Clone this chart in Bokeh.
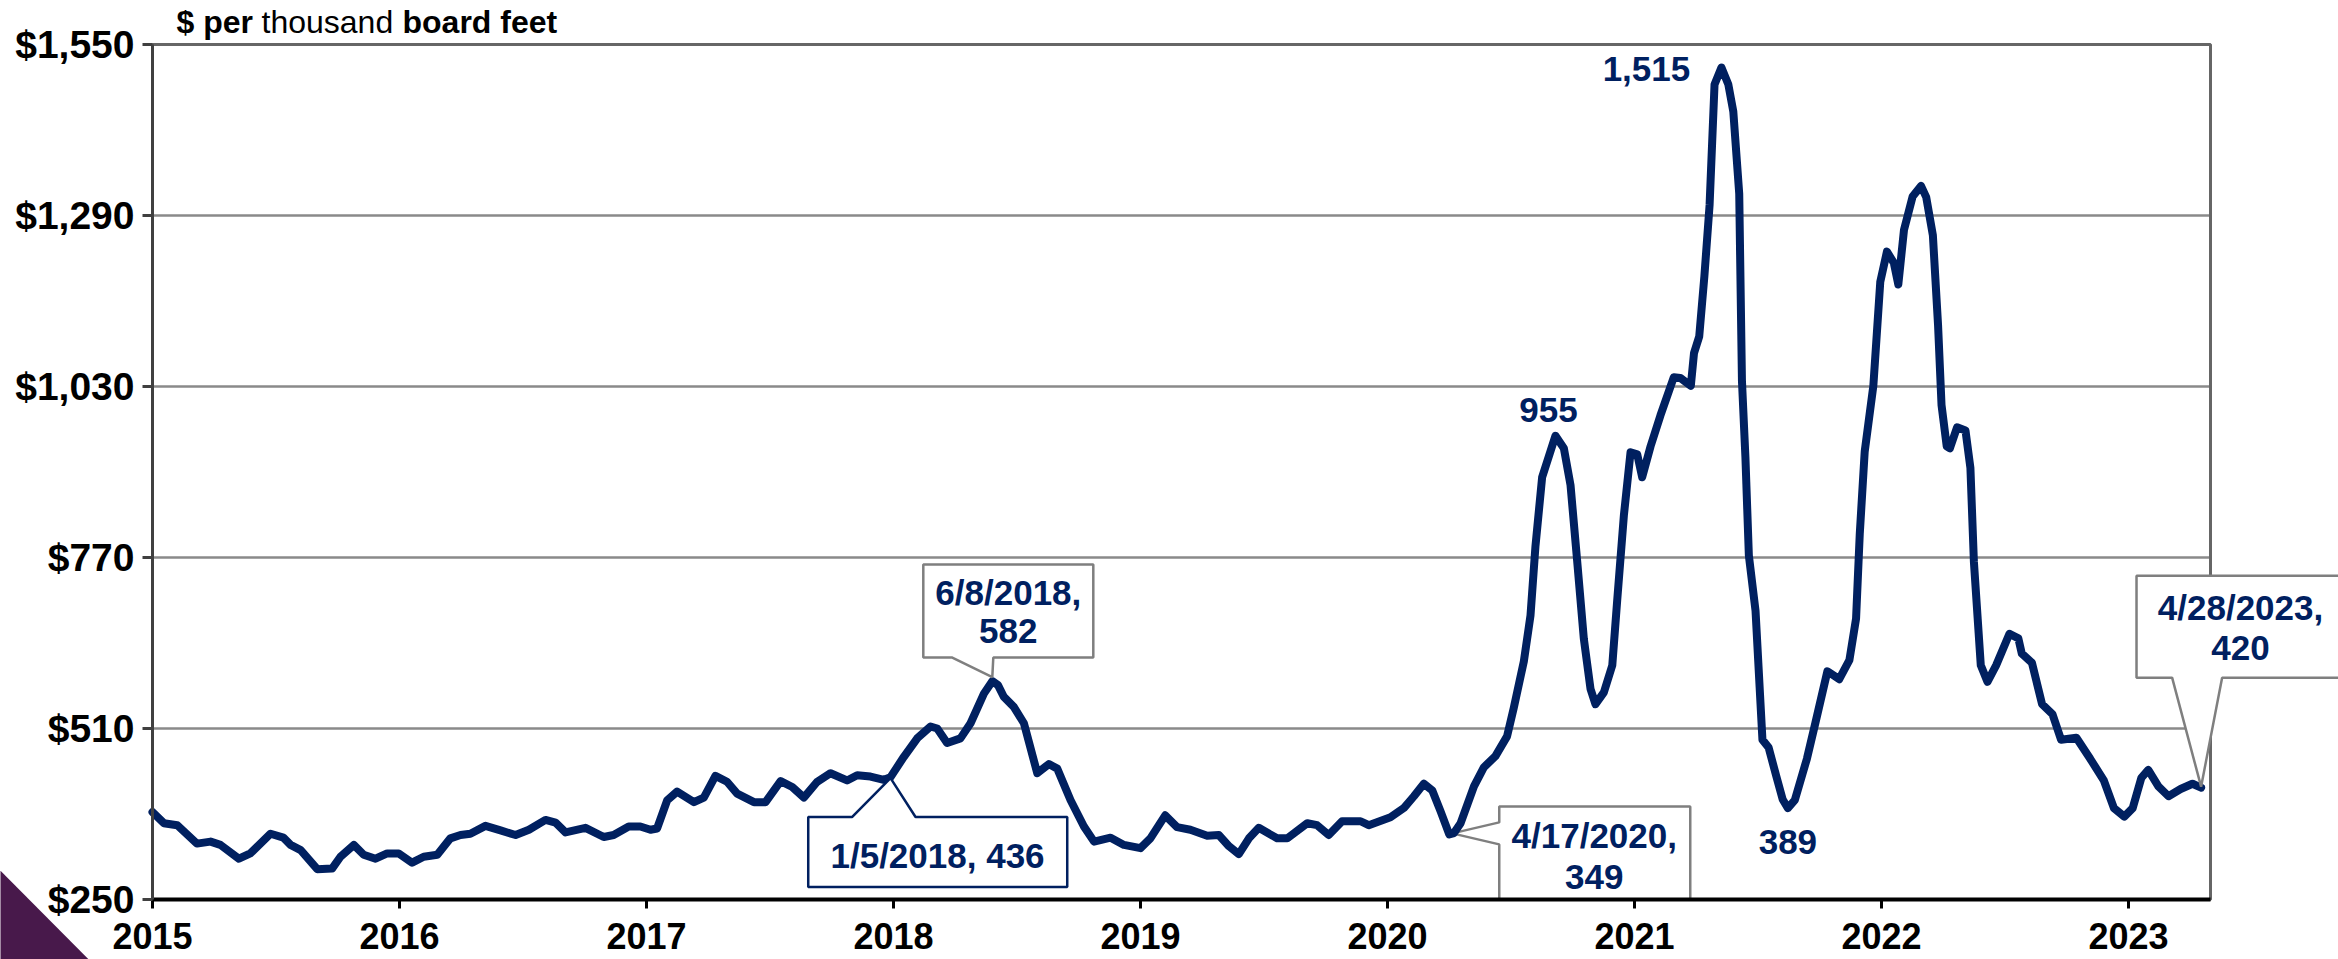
from bokeh.plotting import figure
from bokeh.models import Range1d, FixedTicker, NumeralTickFormatter, Label, PolyAnnotation
from bokeh.embed import file_html
from bokeh.resources import INLINE

# ---------------- data (decimal year, $ per thousand board feet) ----------------
dates = [
    2015.000, 2015.046, 2015.100, 2015.180, 2015.235, 2015.275, 2015.350, 2015.396, 2015.478, 2015.530,
    2015.559, 2015.600, 2015.667, 2015.727, 2015.761, 2015.815, 2015.855, 2015.903, 2015.950, 2015.997,
    2016.051, 2016.098, 2016.153, 2016.206, 2016.247, 2016.287, 2016.348, 2016.409, 2016.470, 2016.524,
    2016.591, 2016.632, 2016.672, 2016.753, 2016.827, 2016.867, 2016.928, 2016.975, 2017.016, 2017.043,
    2017.084, 2017.124, 2017.192, 2017.232, 2017.279, 2017.326, 2017.367, 2017.435, 2017.482, 2017.543,
    2017.590, 2017.637, 2017.691, 2017.745, 2017.812, 2017.853, 2017.907, 2017.961, 2017.988, 2018.042,
    2018.096, 2018.150, 2018.177, 2018.217, 2018.271, 2018.312, 2018.366, 2018.400, 2018.423, 2018.447,
    2018.487, 2018.528, 2018.582, 2018.629, 2018.663, 2018.717, 2018.771, 2018.812, 2018.879, 2018.933,
    2019.000, 2019.040, 2019.100, 2019.148, 2019.202, 2019.270, 2019.317, 2019.358, 2019.398, 2019.439,
    2019.479, 2019.553, 2019.594, 2019.675, 2019.715, 2019.762, 2019.816, 2019.891, 2019.924, 2020.012,
    2020.066, 2020.107, 2020.147, 2020.181, 2020.215, 2020.250, 2020.269, 2020.296, 2020.350, 2020.390,
    2020.437, 2020.484, 2020.511, 2020.552, 2020.579, 2020.599, 2020.626, 2020.680, 2020.714, 2020.741,
    2020.768, 2020.795, 2020.822, 2020.842, 2020.876, 2020.910, 2020.930, 2020.957, 2020.984, 2021.011,
    2021.031, 2021.065, 2021.105, 2021.159, 2021.186, 2021.228, 2021.241, 2021.262, 2021.283, 2021.304,
    2021.324, 2021.352, 2021.380, 2021.400, 2021.424, 2021.435, 2021.449, 2021.463, 2021.490, 2021.518,
    2021.543, 2021.573, 2021.600, 2021.621, 2021.649, 2021.698, 2021.732, 2021.781, 2021.829, 2021.870,
    2021.897, 2021.912, 2021.932, 2021.967, 2021.995, 2022.022, 2022.050, 2022.068, 2022.091, 2022.126,
    2022.160, 2022.181, 2022.208, 2022.229, 2022.243, 2022.264, 2022.277, 2022.306, 2022.340, 2022.360,
    2022.374, 2022.402, 2022.429, 2022.464, 2022.518, 2022.554, 2022.568, 2022.609, 2022.650, 2022.692,
    2022.727, 2022.789, 2022.845, 2022.900, 2022.941, 2022.983, 2023.017, 2023.052, 2023.080, 2023.121,
    2023.162, 2023.211, 2023.259, 2023.294,
]
prices = [
    383, 366, 363, 335, 338, 333, 312, 320, 350, 344,
    333, 325, 296, 297, 315, 333, 318, 312, 320, 320,
    306, 315, 318, 343, 348, 350, 362, 355, 348, 356,
    371, 367, 352, 359, 345, 348, 361, 361, 356, 358,
    401, 414, 398, 405, 438, 429, 411, 398, 398, 430,
    421, 405, 429, 442, 431, 439, 437, 432, 436, 467,
    495, 513, 510, 488, 495, 518, 563, 582, 576, 558,
    543, 518, 442, 456, 449, 401, 361, 338, 344, 333,
    328, 343, 378, 360, 356, 347, 348, 331, 319, 343,
    359, 343, 343, 366, 363, 348, 369, 369, 363, 375,
    389, 407, 426, 416, 384, 349, 351, 366, 422, 451,
    468, 498, 541, 612, 682, 787, 892, 955, 936, 880,
    764, 646, 570, 547, 565, 606, 705, 834, 930, 927,
    892, 939, 986, 1044, 1043, 1031, 1081, 1106, 1198, 1306,
    1489, 1515, 1489, 1448, 1323, 1039, 923, 773, 689, 493,
    481, 439, 402, 389, 401, 464, 518, 597, 585, 614,
    677, 806, 931, 1031, 1189, 1235, 1218, 1185, 1268, 1319,
    1335, 1318, 1260, 1123, 1002, 939, 936, 968, 963, 906,
    764, 606, 581, 606, 654, 647, 624, 610, 547, 532,
    493, 496, 464, 431, 389, 376, 389, 435, 447, 422,
    407, 418, 426, 420,
]

year_ticks = [2015, 2016, 2017, 2018, 2019, 2020, 2021, 2022, 2023]
price_ticks = [250, 510, 770, 1030, 1290, 1550]
grid_ticks = [510, 770, 1030, 1290]

# callouts: (date, price, [text lines])
callouts = {
    "jun2018": (2018.400, 582, ["6/8/2018,", "582"]),
    "jan2018": (2017.988, 436, ["1/5/2018, 436"]),
    "apr2020": (2020.250, 349, ["4/17/2020,", "349"]),
    "apr2023": (2023.294, 420, ["4/28/2023,", "420"]),
}
peaks = [(2020.680, 955, "955"), (2021.352, 1515, "1,515"), (2021.621, 389, "389")]
title_parts = [("$ per", "bold"), ("thousand", "normal"), ("board feet", "bold")]

# ---------------- layout / styles ----------------
NAVY = "#002060"
GRAY = "#7f7f7f"
FONT = "Liberation Sans"
W, H = 2338, 959
PL, PT, PR, PB = 152, 44, 2210, 899           # plot-area edges in figure pixels
PPX = 247.0                                   # px per year
PPY = (PB - PT) / (price_ticks[-1] - price_ticks[0])
XA = year_ticks[0] - PL / PPX
XB = XA + W / PPX
YB = price_ticks[0] - (H - PB) / PPY
YT = price_ticks[-1] + PT / PPY
X_END = year_ticks[0] + (PR - PL) / PPX
Y_LO, Y_HI = price_ticks[0], price_ticks[-1]
TXT_SHIFT = -10                               # vertical nudge for annotation texts


def off(ax, ay, dx, dy):
    """data anchor + pixel offset (dy positive = downward)"""
    return ax + dx / PPX, ay - dy / PPY


def page(px, py):
    """figure pixel -> data coordinates"""
    return XA + px / PPX, YT - py / PPY


p = figure(width=W, height=H, output_backend="svg", toolbar_location=None,
           x_range=Range1d(XA, XB), y_range=Range1d(YB, YT),
           min_border=0, min_border_left=0, min_border_right=0,
           min_border_top=0, min_border_bottom=0)
p.background_fill_color = "white"
p.border_fill_color = "white"
p.outline_line_color = None
p.xgrid.visible = False
p.ygrid.visible = False

xa = p.xaxis[0]
xa.fixed_location = Y_LO
xa.bounds = (year_ticks[0], X_END)
xa.ticker = FixedTicker(ticks=year_ticks)
xa.major_label_text_font = FONT
xa.major_label_text_font_size = "36px"
xa.major_label_text_font_style = "bold"
xa.major_label_text_color = "black"
xa.major_label_standoff = 14
xa.axis_line_color = "black"
xa.axis_line_width = 4
xa.major_tick_line_color = "black"
xa.major_tick_line_width = 3
xa.major_tick_out = 9
xa.major_tick_in = 0
xa.minor_tick_line_color = None

ya = p.yaxis[0]
ya.fixed_location = year_ticks[0]
ya.bounds = (Y_LO, Y_HI)
ya.ticker = FixedTicker(ticks=price_ticks)
ya.formatter = NumeralTickFormatter(format="$0,0")
ya.major_label_text_font = FONT
ya.major_label_text_font_size = "39px"
ya.major_label_text_font_style = "bold"
ya.major_label_text_color = "black"
ya.major_label_standoff = 8
ya.axis_line_color = "#404040"
ya.axis_line_width = 3
ya.major_tick_line_color = "#404040"
ya.major_tick_line_width = 3
ya.major_tick_out = 10
ya.major_tick_in = 0
ya.minor_tick_line_color = None

# horizontal gridlines and plot-area border
p.segment(x0=[year_ticks[0]] * len(grid_ticks), y0=grid_ticks,
          x1=[X_END] * len(grid_ticks), y1=grid_ticks,
          line_color="#8a8a8a", line_width=2.5)
p.quad(left=[year_ticks[0]], right=[X_END], bottom=[Y_LO], top=[Y_HI],
       fill_color=None, line_color="#666666", line_width=3)

# price line
p.line(dates, prices, line_color=NAVY, line_width=8, line_join="round", line_cap="round")

# title (mixed weights)
for (txt, style), px in zip(title_parts, [176, 261, 402]):
    tx, ty = page(px, 21)
    p.add_layout(Label(x=tx, y=ty, text=txt, text_align="left", text_baseline="alphabetic",
                       text_font=FONT, text_font_size="32px", text_font_style=style,
                       text_color="black"))

# decorative corner triangle
tri = [page(-30, 840), page(125, 996), page(-30, 996)]
p.add_layout(PolyAnnotation(xs=[q[0] for q in tri], ys=[q[1] for q in tri],
                            fill_color="#48194b", fill_alpha=1.0, line_color=None))

# callout shapes: pixel offsets relative to anchor
shapes = {
    "jun2018": ([(-69, -116.6), (101, -116.6), (101, -23.6), (1, -23.6), (0, -4), (-40, -23.6), (-69, -23.6)],
                GRAY, "annotation"),
    "jan2018": ([(-82.3, 39.8), (-38.3, 39.8), (0, 1), (25, 39.8), (176.7, 39.8), (176.7, 109.8), (-82.3, 109.8)],
                NAVY, "annotation"),
    "apr2020": ([(50, -28), (241, -28), (241, 65), (50, 65), (50, 10), (3, -1), (50, -12)],
                GRAY, "underlay"),
    "apr2023": ([(-64.6, -212), (150, -212), (150, -110), (21, -110), (0, -1), (-29, -110), (-64.6, -110)],
                GRAY, "annotation"),
}
text_pos = {
    "jun2018": (16, [-79, -40]),
    "jan2018": (47, [88]),
    "apr2020": (145, [11, 53]),
    "apr2023": (39.4, [-170, -130]),
}
for key, (ax, ay, lines) in callouts.items():
    pts, col, lvl = shapes[key]
    xy = [off(ax, ay, dx, dy) for dx, dy in pts]
    p.add_layout(PolyAnnotation(xs=[q[0] for q in xy], ys=[q[1] for q in xy],
                                fill_color="white", fill_alpha=1.0,
                                line_color=col, line_alpha=1.0, line_width=2.5, level=lvl))
for key, (ax, ay, lines) in callouts.items():
    tdx, tdys = text_pos[key]
    for line, tdy in zip(lines, tdys):
        lx, ly = off(ax, ay, tdx, tdy + TXT_SHIFT)
        p.add_layout(Label(x=lx, y=ly, text=line, text_align="center", text_baseline="alphabetic",
                           text_font=FONT, text_font_size="35px", text_font_style="bold",
                           text_color=NAVY))

peak_offsets = {"955": (-7, -14), "1,515": (-75, 13), "389": (0, 45.5)}
for px_, py_, lab in peaks:
    dx, dy = peak_offsets[lab]
    lx, ly = off(px_, py_, dx, dy + TXT_SHIFT - 2)
    p.add_layout(Label(x=lx, y=ly, text=lab, text_align="center", text_baseline="alphabetic",
                       text_font=FONT, text_font_size="35px", text_font_style="bold",
                       text_color=NAVY))

open("out.html", "w").write(file_html(p, INLINE))
